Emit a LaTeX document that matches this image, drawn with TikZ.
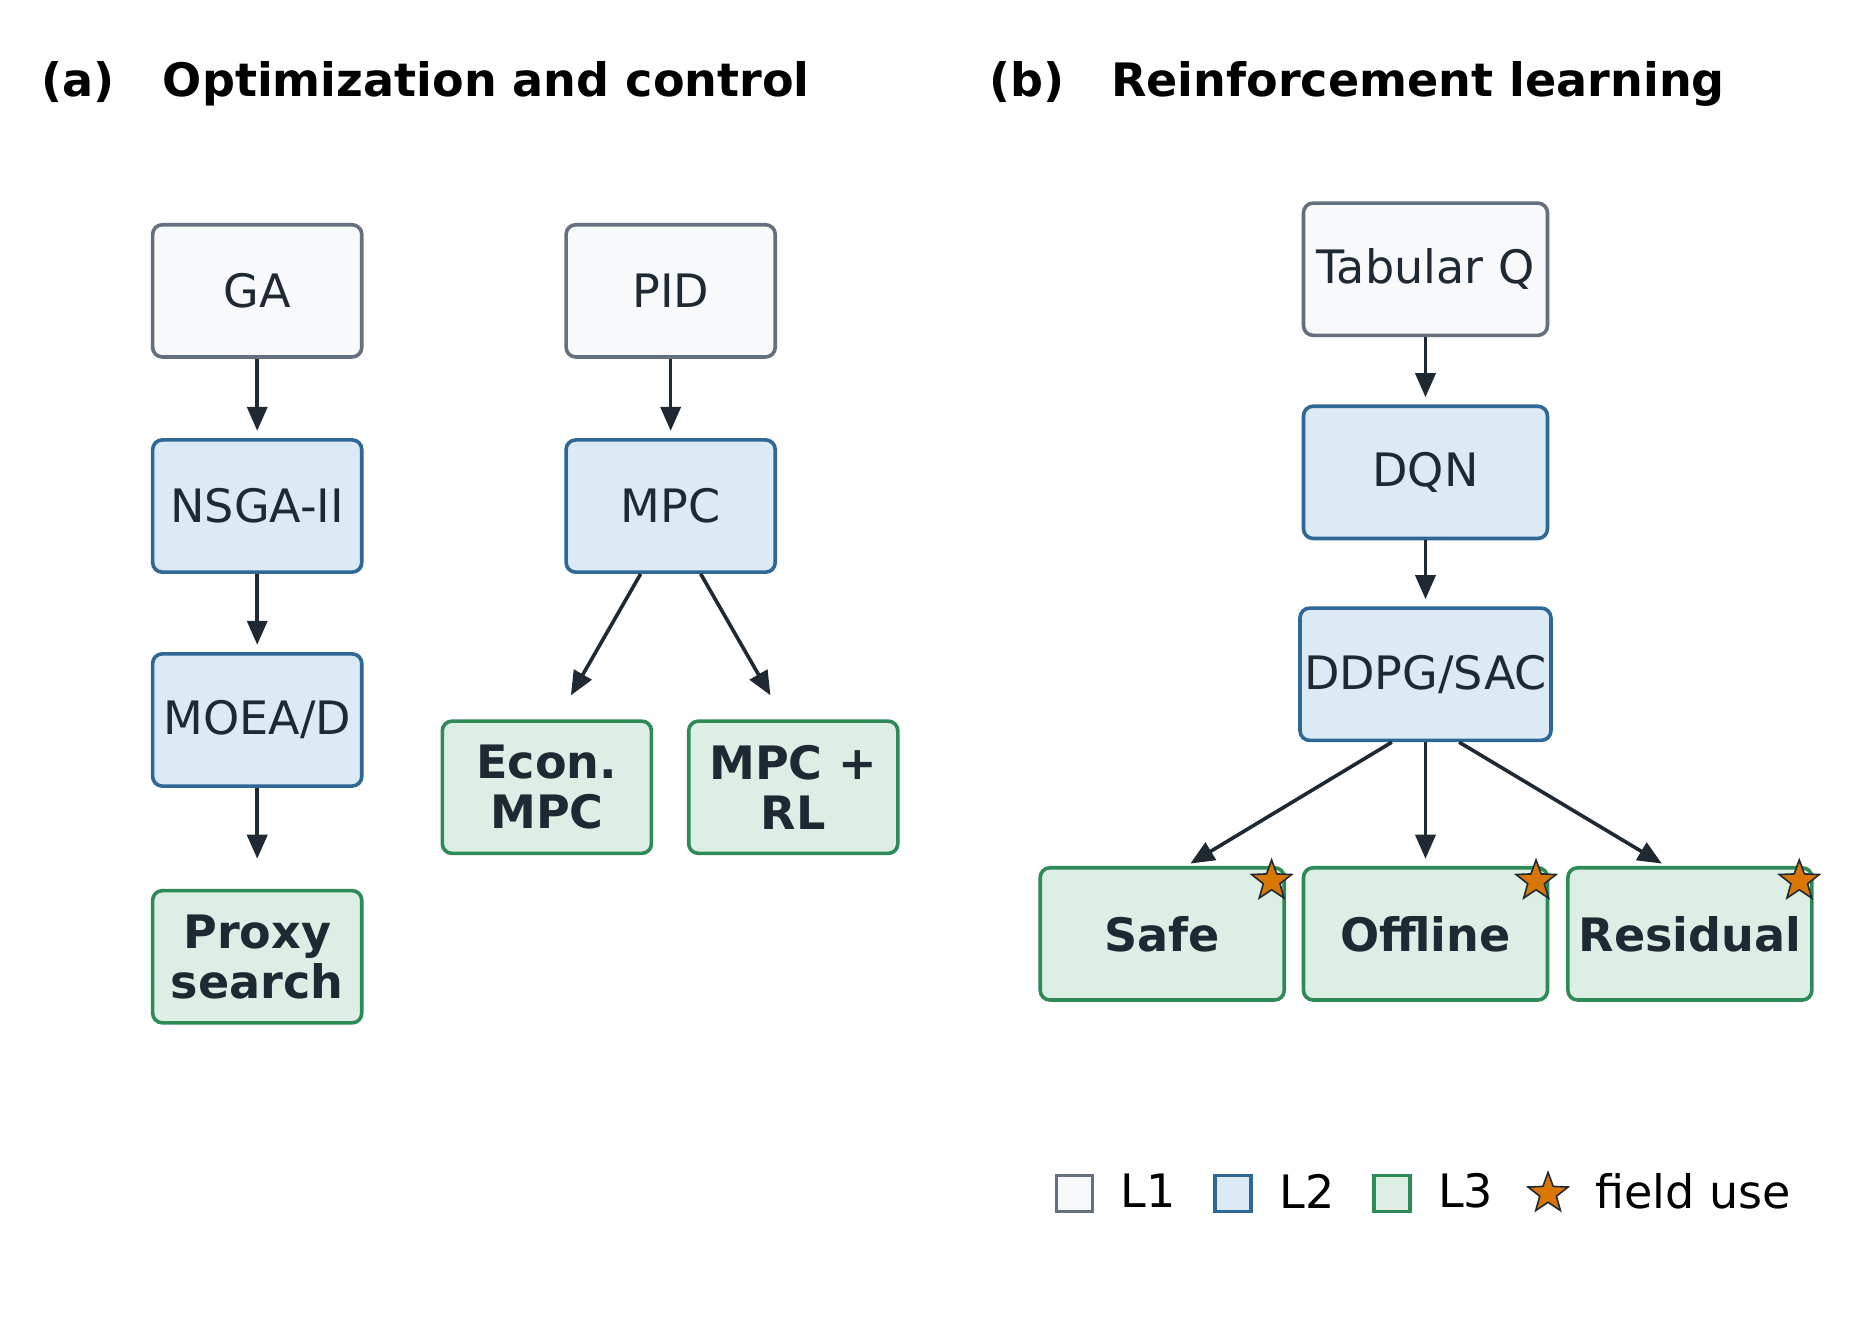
\documentclass[tikz,border=0pt]{standalone}
\usepackage{fontspec}
\setmainfont{DejaVu Sans}
\usetikzlibrary{arrows.meta,shapes.geometric}
\definecolor{ink}{HTML}{1F2933}
\definecolor{lonedraw}{HTML}{64707D}
\definecolor{lonefill}{HTML}{F8F9FA}
\definecolor{ltwodraw}{HTML}{2F6896}
\definecolor{ltwofill}{HTML}{DCEAF5}
\definecolor{lthreedraw}{HTML}{2E8B57}
\definecolor{lthreefill}{HTML}{DDEFE4}
\definecolor{staror}{HTML}{D97706}
\tikzset{
  every picture/.style={line width=0.9pt},
  box/.style={rectangle, rounded corners=2.4pt, line width=0.9pt, minimum width=52.2pt, minimum height=33pt, inner sep=1pt, align=center, text=ink, font=\fontsize{11.5}{12.5}\selectfont},
  wide/.style={minimum width=60.9pt},
  lone/.style={box, draw=lonedraw, fill=lonefill},
  ltwo/.style={box, draw=ltwodraw, fill=ltwofill},
  lthree/.style={box, draw=lthreedraw, fill=lthreefill, font=\fontsize{11.5}{12.5}\selectfont\bfseries},
  flow/.style={draw=ink, line width=0.9pt, -{Triangle[length=6pt,width=5pt]}},
  fstar/.style={star, star points=5, star point ratio=2.4, minimum size=10.5pt, inner sep=0pt, draw=ink, line width=0.4pt, fill=staror},
  key/.style={rectangle, minimum size=9pt, inner sep=0pt, line width=0.9pt},
  title/.style={anchor=base west, font=\fontsize{11.5}{13}\selectfont\bfseries, inner sep=0pt},
  keytext/.style={anchor=west, inner sep=0pt, font=\fontsize{11.5}{13}\selectfont}
}
\begin{document}
\begin{tikzpicture}[x=0.3pt,y=-0.3pt]
  \useasboundingbox (0,0) rectangle (1560,1110);

  % titles
  \node[title] (ta) at (33,80) {(a)};
  \node[title] (tat) at (134,80) {Optimization and control};
  \node[title] (tb) at (822,80) {(b)};
  \node[title] (tbt) at (923,80) {Reinforcement learning};

  % (a) optimization column
  \node[lone] (ga) at (214,242) {GA};
  \node[ltwo] (nsga) at (214,421) {NSGA-II};
  \node[ltwo] (moead) at (214,599) {MOEA/D};
  \node[lthree] (proxy) at (214,796) {Proxy\\search};
  \draw[flow, shorten >=6pt*0.3] (ga) -- (nsga);
  \draw[flow, shorten >=6pt*0.3] (nsga) -- (moead);
  \draw[flow, shorten >=7.5pt] (moead) -- (proxy);

  % (a) control column
  \node[lone] (pid) at (558,242) {PID};
  \node[ltwo] (mpc) at (558,421) {MPC};
  \node[lthree] (econ) at (455,655) {Econ.\\MPC};
  \node[lthree] (mpcrl) at (660,655) {MPC +\\RL};
  \draw[flow, shorten >=6pt*0.3] (pid) -- (mpc);
  \draw[flow] ([xshift=-7.5pt]mpc.south) -- ([xshift=6pt,yshift=6pt]econ.north);
  \draw[flow] ([xshift=7.5pt]mpc.south) -- ([xshift=-5.7pt,yshift=6pt]mpcrl.north);

  % (b) reinforcement learning
  \node[lone, wide] (tabq) at (1186,224) {Tabular Q};
  \node[ltwo, wide] (dqn) at (1186,393) {DQN};
  \node[ltwo, wide] (ddpg) at (1186,561) {DDPG/SAC};
  \node[lthree, wide] (safe) at (967,777) {Safe};
  \node[lthree, wide] (offline) at (1186,777) {Offline};
  \node[lthree, wide] (resid) at (1406,777) {Residual};
  \draw[flow, shorten >=6pt*0.3] (tabq) -- (dqn);
  \draw[flow, shorten >=6pt*0.3] (dqn) -- (ddpg);
  \draw[flow] ([xshift=-8.4pt]ddpg.south) -- ([xshift=7pt,yshift=0.6pt]safe.north);
  \draw[flow] (ddpg.south) -- ([yshift=1.8pt]offline.north);
  \draw[flow] ([xshift=8.4pt]ddpg.south) -- ([xshift=-7pt,yshift=0.6pt]resid.north);
  \node[fstar] (s1) at (1058,733) {};
  \node[fstar] (s2) at (1278,733) {};
  \node[fstar] (s3) at (1497,733) {};

  % legend
  \node[key, draw=lonedraw, fill=lonefill] (k1) at (894,993) {};
  \node[keytext] (k1t) at (931,991) {L1};
  \node[key, draw=ltwodraw, fill=ltwofill] (k2) at (1026,993) {};
  \node[keytext] (k2t) at (1063,991) {L2};
  \node[key, draw=lthreedraw, fill=lthreefill] (k3) at (1158,993) {};
  \node[keytext] (k3t) at (1195,991) {L3};
  \node[fstar] (k4) at (1288,993) {};
  \node[keytext] (k4t) at (1326,991) {field use};
\end{tikzpicture}
\end{document}
